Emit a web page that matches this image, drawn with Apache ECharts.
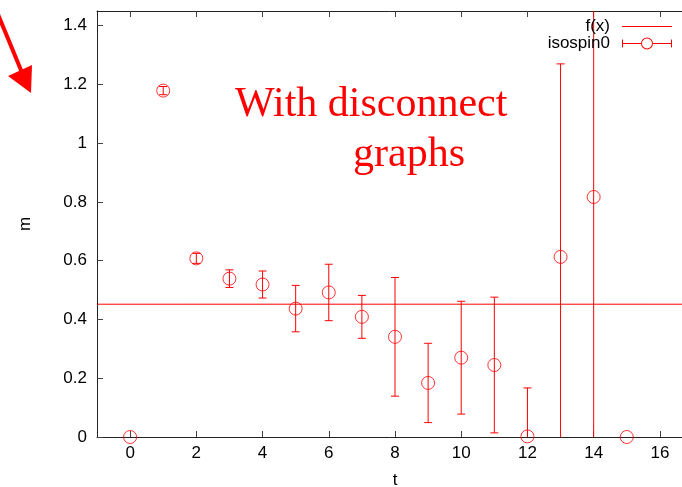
<!DOCTYPE html>
<html>
<head>
<meta charset="utf-8">
<script src="https://cdn.jsdelivr.net/npm/echarts@6/dist/echarts.min.js"></script>
<style>
  html, body { margin: 0; padding: 0; background: #fff; }
  #chart { width: 682px; height: 487px; }
</style>
</head>
<body>
<div id="chart"></div>
<script>
// data
var tVals = [0, 1, 2, 3, 4, 5, 6, 7, 8, 9, 10, 11, 12, 13, 14, 15];
var mVals = [0, 1.179, 0.608, 0.539, 0.519, 0.437, 0.492, 0.409, 0.341, 0.184, 0.270, 0.245, 0.002, 0.613, 0.817, 0];
var mErr  = [0, 0.014, 0.017, 0.030, 0.046, 0.079, 0.096, 0.073, 0.202, 0.135, 0.192, 0.231, 0.165, 0.657, 1.2, 0];
var fitValue = 0.452;
var fitRange = [-1, 17];
var xTicks = [0, 2, 4, 6, 8, 10, 12, 14, 16];
var yTicks = [0, 0.2, 0.4, 0.6, 0.8, 1, 1.2, 1.4];

var yMin = 0, yMax = 1.45;
var red = '#ff0000';
var font = '"Liberation Sans", Arial, sans-serif';

var points = tVals.map(function (t, i) { return [t, mVals[i]]; });
var bars = tVals.map(function (t, i) { return [t, mVals[i] - mErr[i], mVals[i] + mErr[i]]; });

var chart = echarts.init(document.getElementById('chart'));

var legendText = { fontFamily: font, fontSize: 17, color: '#000', padding: [0, 7, 0, 0] };

var option = {
    animation: false,
    grid: { left: 97, right: -11, top: 11, bottom: 50, outerBoundsMode: 'none', containLabel: false },
    legend: [
        {
            data: [{ name: 'f(x)', icon: 'path://M0,0 L50,0 L50,1 L0,1 Z', itemStyle: { color: red } }],
            right: 5, top: 13, align: 'right',
            itemWidth: 50, itemHeight: 1,
            textStyle: legendText
        },
        {
            data: [{
                name: 'isospin0',
                icon: 'path://M0,2 L1,2 L1,5.5 L19,5.5 L19,6.5 L1,6.5 L1,10 L0,10 Z ' +
                      'M50,2 L49,2 L49,5.5 L31,5.5 L31,6.5 L49,6.5 L49,10 L50,10 Z ' +
                      'M19,6 A6,6 0 1,1 31,6 A6,6 0 1,1 19,6 Z M20,6 A5,5 0 1,0 30,6 A5,5 0 1,0 20,6 Z',
                itemStyle: { color: red }
            }],
            right: 5, top: 30, align: 'right',
            itemWidth: 50, itemHeight: 12,
            textStyle: legendText
        }
    ],
    xAxis: [
        {
            type: 'value', min: -1, max: 17,
            name: 't', nameLocation: 'middle', nameGap: 35,
            nameTextStyle: { fontFamily: font, fontSize: 17, color: '#000' },
            axisLine: { onZero: false, lineStyle: { color: '#222', width: 1 } },
            axisTick: { inside: true, length: 6, customValues: xTicks, lineStyle: { color: '#444' } },
            axisLabel: { customValues: xTicks, margin: 8, fontFamily: font, fontSize: 17, color: '#000' },
            splitLine: { show: false }
        },
        {
            type: 'value', min: -1, max: 17, position: 'top',
            axisLine: { onZero: false, lineStyle: { color: '#222', width: 1 } },
            axisTick: { inside: true, length: 6, customValues: xTicks, lineStyle: { color: '#444' } },
            axisLabel: { show: false },
            splitLine: { show: false }
        }
    ],
    yAxis: {
        type: 'value', min: yMin, max: yMax,
        name: 'm', nameLocation: 'middle', nameGap: 63,
        nameTextStyle: { fontFamily: font, fontSize: 17, color: '#000' },
        axisLine: { show: true, onZero: false, lineStyle: { color: '#222', width: 1 } },
        axisTick: { show: true, inside: true, length: 6, customValues: yTicks, lineStyle: { color: '#444' } },
        axisLabel: { customValues: yTicks, margin: 10, fontFamily: font, fontSize: 17, color: '#000' },
        splitLine: { show: false }
    },
    series: [
        {
            name: 'f(x)',
            type: 'line',
            symbol: 'none',
            data: [[fitRange[0], fitValue], [fitRange[1], fitValue]],
            lineStyle: { color: red, width: 1 },
            itemStyle: { color: red }
        },
        {
            name: 'isospin0',
            type: 'custom',
            data: bars,
            itemStyle: { color: red },
            renderItem: function (params, api) {
                var x = api.value(0), lo = api.value(1), hi = api.value(2);
                if (hi - lo <= 0) return null;
                var top = api.coord([x, Math.min(hi, yMax)]);
                var bot = api.coord([x, Math.max(lo, yMin)]);
                var st = { stroke: red, lineWidth: 1 };
                var kids = [{ type: 'line', shape: { x1: top[0], y1: top[1], x2: bot[0], y2: bot[1] }, style: st }];
                if (hi <= yMax) {
                    kids.push({ type: 'line', shape: { x1: top[0] - 4, y1: top[1], x2: top[0] + 4, y2: top[1] }, style: st });
                }
                if (lo >= yMin) {
                    kids.push({ type: 'line', shape: { x1: bot[0] - 4, y1: bot[1], x2: bot[0] + 4, y2: bot[1] }, style: st });
                }
                return { type: 'group', children: kids };
            },
            z: 3
        },
        {
            name: 'isospin0',
            type: 'scatter',
            data: points,
            symbol: 'circle',
            symbolSize: 13,
            itemStyle: { color: 'rgba(0,0,0,0)', borderColor: red, borderWidth: 1 },
            z: 4
        }
    ],
    graphic: [
        {
            type: 'text', left: 235, top: 84,
            style: { text: 'With disconnect', font: '42px "Liberation Serif", "Times New Roman", serif', fill: red }
        },
        {
            type: 'text', left: 353, top: 134,
            style: { text: 'graphs', font: '42px "Liberation Serif", "Times New Roman", serif', fill: red }
        },
        {
            type: 'line', shape: { x1: -8, y1: 0, x2: 23, y2: 75 },
            style: { stroke: red, lineWidth: 4 }
        },
        {
            type: 'polygon', shape: { points: [[31, 93], [8, 76], [32, 65]] },
            style: { fill: red }
        }
    ]
};

chart.setOption(option);
</script>
</body>
</html>
